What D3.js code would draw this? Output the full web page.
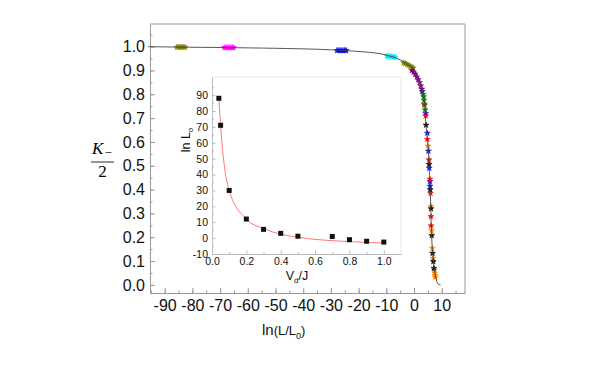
<!DOCTYPE html>
<html>
<head>
<meta charset="utf-8">
<script src="https://cdn.jsdelivr.net/npm/d3@7"></script>
<style>
  body { margin: 0; background: #fff; }
  text { font-family: "Liberation Sans", Arial, sans-serif; }
</style>
</head>
<body>
<div id="chart"></div>
<script>
// main curve, K_-/2 against ln(L/L0)
var curveX = [-96, -85, -68, -50, -35, -26, -18, -12, -8, -5, -3, -1, 0, 1, 2, 3, 3.6, 4.0, 4.3, 4.9, 5.3, 5.6, 5.9, 6.1, 6.3, 6.6, 6.95, 7.3, 7.7, 8.2, 8.8, 9.6];
var curveY = [1.0, 0.998, 0.996, 0.993, 0.989, 0.984, 0.978, 0.970, 0.958, 0.945, 0.930, 0.915, 0.905, 0.885, 0.855, 0.812, 0.78, 0.74, 0.67, 0.61, 0.54, 0.46, 0.38, 0.30, 0.22, 0.15, 0.10, 0.07, 0.04, 0.015, 0.003, 0.0];

// scattered markers, one pair of arrays per colour
var oliveX = [-85.6, -85.0, -84.4, -83.8, -83.2, -82.6, -3.8, -3.2, -2.6, -2.0, -1.4, -0.8, -0.3];
var oliveY = [0.998, 0.998, 0.998, 0.998, 0.998, 0.998, 0.932, 0.929, 0.926, 0.922, 0.918, 0.914, 0.91];
var magentaX = [-68.5, -67.8, -67.1, -66.4, -65.7, -65.1];
var magentaY = [0.996, 0.996, 0.996, 0.996, 0.996, 0.996];
var blueX = [-27.8, -27.1, -26.4, -25.7, -25.0, -24.5, 3.0, 4.2, 4.8, 5.2, 5.5, 5.75, 5.8];
var blueY = [0.984, 0.984, 0.984, 0.984, 0.984, 0.984, 0.812, 0.72, 0.637, 0.562, 0.49, 0.434, 0.415];
var cyanX = [-9.8, -9.2, -8.6, -8.0, -7.4, -6.8];
var cyanY = [0.961, 0.960, 0.959, 0.958, 0.957, 0.956];
var purpleX = [-0.8, -0.2, 0.4, 1.0, 1.5, 2.0, 2.4, 2.8];
var purpleY = [0.90, 0.893, 0.885, 0.873, 0.862, 0.85, 0.836, 0.822];
var greenX = [3.3, 3.5, 3.6, 3.8, 4.0];
var greenY = [0.80, 0.79, 0.775, 0.755, 0.735];
var redX = [3.7, 4.2, 4.8, 5.4, 5.75, 5.95, 6.1, 6.15];
var redY = [0.758, 0.71, 0.611, 0.525, 0.444, 0.385, 0.287, 0.248];
var blackX = [4.33, 5.45, 5.85, 6.14, 6.4, 6.7, 6.97, 7.2];
var blackY = [0.671, 0.506, 0.40, 0.32, 0.207, 0.133, 0.098, 0.07];
var orangeX = [5.0, 6.12, 6.35, 6.6, 6.85, 7.3, 7.45, 7.6, 7.7];
var orangeY = [0.583, 0.33, 0.228, 0.154, 0.112, 0.063, 0.05, 0.04, 0.032];

// inset: ln L0 against Vd/J
var insetX = [0.04, 0.05, 0.1, 0.2, 0.3, 0.4, 0.5, 0.7, 0.8, 0.9, 1.0];
var insetY = [88, 71, 30, 12, 5.5, 3, 1.2, 1, -1, -2, -2.5];
var fitX = [0.04, 0.05, 0.1, 0.2, 0.3, 0.4, 0.5, 0.6, 0.7, 0.8, 0.9, 1.0];
var fitY = [88, 71, 30, 12, 6, 2.5, 0.5, -0.8, -1.6, -2.2, -2.7, -3.1];

var mainXTicks = [-90, -80, -70, -60, -50, -40, -30, -20, -10, 0, 10];
var mainYTicks = [0, 0.1, 0.2, 0.3, 0.4, 0.5, 0.6, 0.7, 0.8, 0.9, 1.0];
var insetXTicks = [0, 0.2, 0.4, 0.6, 0.8, 1.0];
var insetYTicks = [-10, 0, 10, 20, 30, 40, 50, 60, 70, 80, 90];

var markerSets = [
  {x: oliveX, y: oliveY, color: "#808000"},
  {x: magentaX, y: magentaY, color: "#ff00ff"},
  {x: blueX, y: blueY, color: "#0000ff"},
  {x: cyanX, y: cyanY, color: "#00e5ee"},
  {x: purpleX, y: purpleY, color: "#800080"},
  {x: greenX, y: greenY, color: "#008000"},
  {x: redX, y: redY, color: "#ff0000"},
  {x: orangeX, y: orangeY, color: "#ff8000"},
  {x: blackX, y: blackY, color: "#000000"}
];

var svg = d3.select("#chart").append("svg")
    .attr("width", 598)
    .attr("height", 370);

var frame = {left: 150, right: 465, top: 24, bottom: 293};
var x = d3.scaleLinear().domain([-95.3, 18.4]).range([frame.left, frame.right]);
var y = d3.scaleLinear().domain([-0.034, 1.095]).range([frame.bottom, frame.top]);
var axisColor = "#999";

// frame top / right
svg.append("path")
   .attr("d", "M" + frame.left + "," + frame.top + "H" + frame.right + "V" + frame.bottom)
   .attr("fill", "none").attr("stroke", axisColor);

function styleAxis(g, color, fontSize) {
  g.select(".domain").attr("stroke", color);
  g.selectAll(".tick line").attr("stroke", color);
  g.selectAll("text").attr("fill", "#111").style("font-size", fontSize).attr("font-family", null);
}

// minor ticks
var xMinor = svg.append("g").attr("transform", "translate(0," + frame.bottom + ")")
   .call(d3.axisBottom(x).tickValues(d3.range(-95, 19, 5)).tickSize(-2.5).tickFormat(""));
xMinor.select(".domain").remove();
xMinor.selectAll("line").attr("stroke", axisColor);
var yMinor = svg.append("g").attr("transform", "translate(" + frame.left + ",0)")
   .call(d3.axisLeft(y).tickValues(d3.range(0, 1.09, 0.05)).tickSize(-2.5).tickFormat(""));
yMinor.select(".domain").remove();
yMinor.selectAll("line").attr("stroke", axisColor);

var xAxis = svg.append("g").attr("transform", "translate(0," + frame.bottom + ")")
   .call(d3.axisBottom(x).tickValues(mainXTicks).tickSize(-5).tickSizeOuter(0).tickPadding(7).tickFormat(d3.format("d")));
styleAxis(xAxis, axisColor, "16px");
xAxis.selectAll("text").text(function(d) {return d < 0 ? "-" + Math.abs(d) : d;});

var yAxis = svg.append("g").attr("transform", "translate(" + frame.left + ",0)")
   .call(d3.axisLeft(y).tickValues(mainYTicks).tickSize(-5).tickSizeOuter(0).tickPadding(5).tickFormat(d3.format(".1f")));
styleAxis(yAxis, axisColor, "16px");

// markers
markerSets.forEach(function(s) {
  svg.append("g").selectAll("path")
     .data(d3.range(s.x.length))
     .enter().append("path")
     .attr("d", d3.symbol().type(d3.symbolStar).size(11))
     .attr("transform", function(i) {return "translate(" + x(s.x[i]) + "," + y(s.y[i]) + ")";})
     .attr("fill", s.color)
     .attr("stroke", s.color)
     .attr("stroke-width", 0.5);
});

svg.append("path")
   .attr("d", d3.line()
      .x(function(i) {return x(curveX[i]);})
      .y(function(i) {return y(curveY[i]);})
      .curve(d3.curveCatmullRom)(d3.range(curveX.length)))
   .attr("fill", "none").attr("stroke", "#444").attr("stroke-width", 0.9);

// y title K_-/2
var yt = svg.append("g");
yt.append("text").attr("x", 92).attr("y", 154)
  .style("font-family", "'Liberation Serif', serif").style("font-style", "italic").style("font-size", "17px").text("K");
yt.append("text").attr("x", 104.5).attr("y", 157)
  .style("font-family", "'Liberation Serif', serif").style("font-size", "13px").text("\u2212");
yt.append("line").attr("x1", 91).attr("x2", 114).attr("y1", 162).attr("y2", 162)
  .attr("stroke", "#111").attr("stroke-width", 0.9);
yt.append("text").attr("x", 102.5).attr("y", 177).attr("text-anchor", "middle")
  .style("font-family", "'Liberation Serif', serif").style("font-size", "17px").text("2");

// x title ln(L/L0)
var xt = svg.append("text").attr("x", 262).attr("y", 335).attr("fill", "#111");
xt.append("tspan").style("font-size", "15px").text("ln");
xt.append("tspan").style("font-size", "13px").text("(L/L");
xt.append("tspan").style("font-size", "9px").attr("dy", 4).text("0");
xt.append("tspan").style("font-size", "13px").attr("dy", -4).text(")");

// ---------- inset ----------
var inset = {left: 212, right: 401, top: 77, bottom: 254};
var ix = d3.scaleLinear().domain([0, 1.1]).range([inset.left, inset.right]);
var iy = d3.scaleLinear().domain([-10, 101.4]).range([inset.bottom, inset.top]);
var insetAxisColor = "#bbb";

svg.append("rect")
   .attr("x", inset.left).attr("y", inset.top)
   .attr("width", inset.right - inset.left).attr("height", inset.bottom - inset.top)
   .attr("fill", "#fff");
svg.append("path")
   .attr("d", "M" + inset.left + "," + inset.top + "H" + inset.right + "V" + inset.bottom)
   .attr("fill", "none").attr("stroke", "#e8e8e8");

var ixMinor = svg.append("g").attr("transform", "translate(0," + inset.bottom + ")")
   .call(d3.axisBottom(ix).tickValues(d3.range(0.1, 1.05, 0.2)).tickSize(-2).tickFormat(""));
ixMinor.select(".domain").remove();
ixMinor.selectAll("line").attr("stroke", insetAxisColor);
var iyMinor = svg.append("g").attr("transform", "translate(" + inset.left + ",0)")
   .call(d3.axisLeft(iy).tickValues(d3.range(-5, 100, 10)).tickSize(-2).tickFormat(""));
iyMinor.select(".domain").remove();
iyMinor.selectAll("line").attr("stroke", insetAxisColor);

var ixAxis = svg.append("g").attr("transform", "translate(0," + inset.bottom + ")")
   .call(d3.axisBottom(ix).tickValues(insetXTicks).tickSize(-3.5).tickSizeOuter(0).tickPadding(3.5).tickFormat(d3.format(".1f")));
styleAxis(ixAxis, insetAxisColor, "10.5px");
var iyAxis = svg.append("g").attr("transform", "translate(" + inset.left + ",0)")
   .call(d3.axisLeft(iy).tickValues(insetYTicks).tickSize(-3.5).tickSizeOuter(0).tickPadding(4).tickFormat(d3.format("d")));
styleAxis(iyAxis, insetAxisColor, "10.5px");
iyAxis.selectAll("text").text(function(d) {return d < 0 ? "-" + Math.abs(d) : d;});

svg.append("path")
   .attr("d", d3.line()
      .x(function(i) {return ix(fitX[i]);})
      .y(function(i) {return iy(fitY[i]);})
      .curve(d3.curveMonotoneX)(d3.range(fitX.length)))
   .attr("fill", "none").attr("stroke", "#ff7777").attr("stroke-width", 1);

svg.append("g").selectAll("rect")
   .data(d3.range(insetX.length))
   .enter().append("rect")
   .attr("x", function(i) {return ix(insetX[i]) - 2.5;})
   .attr("y", function(i) {return iy(insetY[i]) - 2.5;})
   .attr("width", 5).attr("height", 5)
   .attr("fill", "#111");

// inset titles
var iyt = svg.append("text")
   .attr("transform", "translate(190,140) rotate(-90)")
   .attr("text-anchor", "middle").attr("fill", "#111").style("font-size", "12.5px");
iyt.append("tspan").text("ln L");
iyt.append("tspan").attr("dy", 3).style("font-size", "8px").text("o");

var ixt = svg.append("text").attr("x", 297).attr("y", 280)
   .attr("text-anchor", "middle").attr("fill", "#111").style("font-size", "12.5px");
ixt.append("tspan").text("V");
ixt.append("tspan").attr("dy", 3).style("font-size", "8px").text("d");
ixt.append("tspan").attr("dy", -3).text("/J");
</script>
</body>
</html>
